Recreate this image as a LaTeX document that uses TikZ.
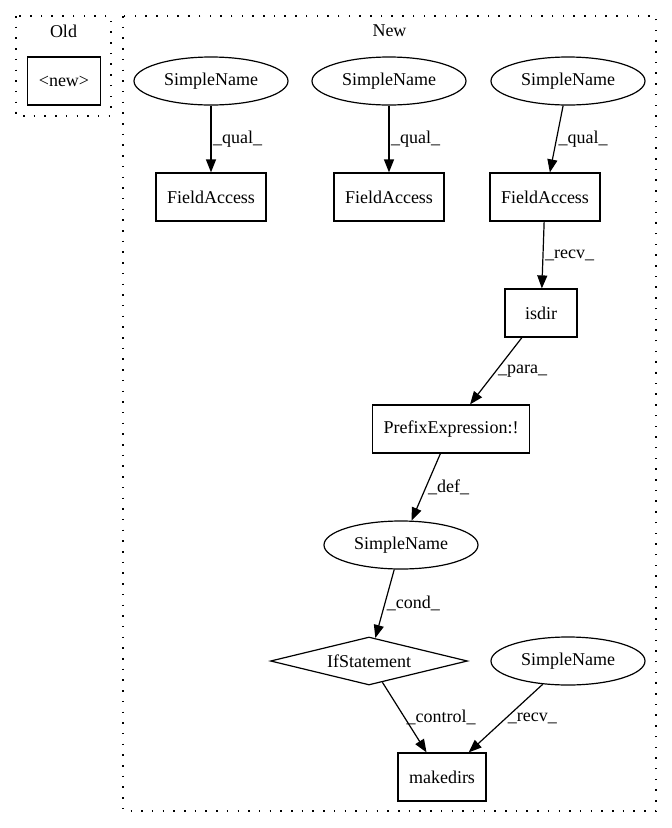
\documentclass[tikz,border=0pt]{standalone}
\usepackage{fontspec}
\setmainfont{Liberation Serif}
\usetikzlibrary{shapes.geometric}
\usetikzlibrary{arrows.meta}

\begin{document}
\begin{tikzpicture}[x=1pt,y=-1pt,
    font=\fontsize{18}{20}\selectfont,
    fieldbox/.style={draw, rectangle, line width=1.2pt, minimum height=48pt, minimum width=72pt, inner xsep=11pt},
    namenode/.style={draw, ellipse, line width=1.2pt, minimum width=154pt, minimum height=48pt, inner sep=0pt},
    ifnode/.style={draw, diamond, aspect=4, line width=1.2pt, minimum width=197pt, minimum height=48pt, inner sep=0pt},
    clusterbox/.style={line width=1.3pt, dash pattern=on 1.5pt off 9.2pt},
    flow/.style={-{Triangle[length=13pt,width=10pt]}, line width=1.2pt},
    elabel/.style={midway, right, inner sep=1.5pt}]
    \useasboundingbox (0,0) rectangle (672,828);

    % clusters
    \draw[clusterbox] (16,16) rectangle (111,116);
    \draw[clusterbox] (123,16) rectangle (656,811);
    \node (oldlabel) at (63.5,31) {Old};
    \node (newlabel) at (389.5,31) {New};

    % old side
    \node[fieldbox] (newnode) at (64,81) {<new>};

    % new side
    \node[namenode] (sn1) at (211,81) {SimpleName};
    \node[namenode] (sn2) at (389,81) {SimpleName};
    \node[namenode] (sn3) at (568,81) {SimpleName};
    \node[fieldbox] (fa1) at (211,197) {FieldAccess};
    \node[fieldbox] (fa2) at (389,197) {FieldAccess};
    \node[fieldbox] (fa3) at (545,197) {FieldAccess};
    \node[fieldbox] (isdir) at (541,313) {isdir};
    \node[fieldbox] (prefix) at (451,429) {PrefixExpression:!};
    \node[namenode] (sn4) at (401,545) {SimpleName};
    \node[ifnode] (ifst) at (369,661) {IfStatement};
    \node[namenode] (sn5) at (568,661) {SimpleName};
    \node[fieldbox] (makedirs) at (442,777) {makedirs};

    \draw[flow] (sn1) -- node[elabel] {\_qual\_} (fa1);
    \draw[flow] (sn2) -- node[elabel] {\_qual\_} (fa2);
    \draw[flow] (sn3) -- node[elabel] {\_qual\_} (fa3);
    \draw[flow] (fa3) -- node[elabel] {\_recv\_} (isdir);
    \draw[flow] (isdir) -- node[elabel] {\_para\_} (prefix);
    \draw[flow] (prefix) -- node[elabel] {\_def\_} (sn4);
    \draw[flow] (sn4) -- node[elabel] {\_cond\_} (ifst);
    \draw[flow] (ifst) -- node[elabel] {\_control\_} (makedirs);
    \draw[flow] (sn5) -- node[elabel] {\_recv\_} (makedirs);
\end{tikzpicture}
\end{document}
